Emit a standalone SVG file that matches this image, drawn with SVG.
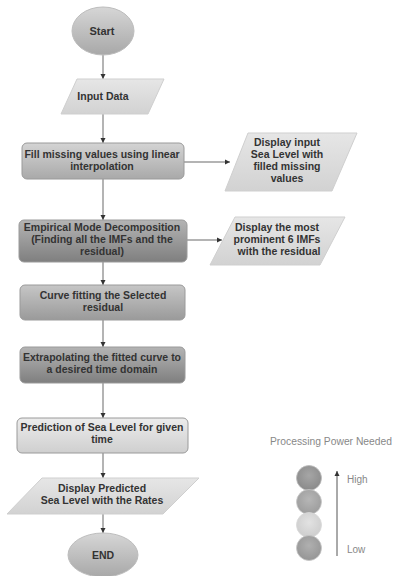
<svg xmlns="http://www.w3.org/2000/svg" width="394" height="576" viewBox="0 0 394 576">
<defs>
<linearGradient id="gEll" x1="0" y1="0" x2="0" y2="1"><stop offset="0" stop-color="#d6d6d6"/><stop offset="1" stop-color="#a8a8a8"/></linearGradient>
<linearGradient id="gPara" x1="0" y1="0" x2="0" y2="1"><stop offset="0" stop-color="#e6e6e6"/><stop offset="1" stop-color="#d2d2d2"/></linearGradient>
<linearGradient id="gMid" x1="0" y1="0" x2="0" y2="1"><stop offset="0" stop-color="#d4d4d4"/><stop offset="1" stop-color="#a9a9a9"/></linearGradient>
<linearGradient id="gDark" x1="0" y1="0" x2="0" y2="1"><stop offset="0" stop-color="#b4b4b4"/><stop offset="1" stop-color="#7f7f7f"/></linearGradient>
<linearGradient id="gCurve" x1="0" y1="0" x2="0" y2="1"><stop offset="0" stop-color="#c6c6c6"/><stop offset="1" stop-color="#9a9a9a"/></linearGradient>
<linearGradient id="gLight" x1="0" y1="0" x2="0" y2="1"><stop offset="0" stop-color="#ececec"/><stop offset="1" stop-color="#cfcfcf"/></linearGradient>
<radialGradient id="c1" cx="0.5" cy="0.4" r="0.6"><stop offset="0" stop-color="#a6a6a6"/><stop offset="1" stop-color="#8a8a8a"/></radialGradient>
<radialGradient id="c2" cx="0.5" cy="0.4" r="0.6"><stop offset="0" stop-color="#b6b6b6"/><stop offset="1" stop-color="#9c9c9c"/></radialGradient>
<radialGradient id="c3" cx="0.5" cy="0.4" r="0.6"><stop offset="0" stop-color="#e2e2e2"/><stop offset="1" stop-color="#cdcdcd"/></radialGradient>
<radialGradient id="c4" cx="0.5" cy="0.4" r="0.6"><stop offset="0" stop-color="#b0b0b0"/><stop offset="1" stop-color="#959595"/></radialGradient>
<marker id="arr" markerWidth="6" markerHeight="6" refX="5" refY="3" orient="auto" markerUnits="userSpaceOnUse"><path d="M0,0.5 L5,3 L0,5.5 Z" fill="#333"/></marker>
</defs>
<style>
.t{font-family:"Liberation Sans",Arial,sans-serif;font-weight:bold;font-size:10.5px;fill:#333;text-anchor:middle}
.l{font-family:"Liberation Sans",Arial,sans-serif;font-size:10px;fill:#888}
.box{stroke:#9a9a9a;stroke-width:1}
.para{fill:url(#gPara);stroke:#cfcfcf;stroke-width:1}
.c{stroke:#9b9b9b;stroke-width:1.5;fill:none;marker-end:url(#arr)}
</style>
<rect width="394" height="576" fill="#fff"/>
<g id="connectors">
<line class="c" x1="103" y1="55" x2="103" y2="79"/>
<line class="c" x1="103" y1="114" x2="103" y2="143"/>
<line class="c" x1="184" y1="162" x2="230" y2="162"/>
<line class="c" x1="103" y1="179" x2="103" y2="220"/>
<line class="c" x1="187" y1="240" x2="222" y2="240"/>
<line class="c" x1="103" y1="262" x2="103" y2="285"/>
<line class="c" x1="103" y1="320" x2="103" y2="347"/>
<line class="c" x1="103" y1="383" x2="103" y2="418"/>
<line class="c" x1="103" y1="453" x2="103" y2="478"/>
<line class="c" x1="103" y1="514" x2="103" y2="533"/>
</g>
<g id="start">
<ellipse cx="103" cy="31" rx="31" ry="24" fill="url(#gEll)" stroke="#bdbdbd"/>
<text class="t" x="102" y="35" style="font-size:11px">Start</text>
</g>
<g id="input">
<polygon class="para" points="77,79 164,79 148,114 61,114"/>
<text class="t" x="103" y="100">Input Data</text>
</g>
<g id="fill">
<rect class="box" x="22" y="143" width="162" height="36" rx="5" fill="url(#gMid)"/>
<text class="t" x="102" y="158">Fill missing values using linear</text>
<text class="t" x="102" y="170">interpolation</text>
</g>
<g id="display1">
<polygon class="para" points="248,133 357,133 332,191 225,191"/>
<text class="t" x="287" y="146">Display input</text>
<text class="t" x="287" y="158">Sea Level with</text>
<text class="t" x="287" y="170">filled missing</text>
<text class="t" x="287" y="182">values</text>
</g>
<g id="emd">
<rect class="box" x="19" y="220" width="168" height="42" rx="5" fill="url(#gDark)"/>
<text class="t" x="102" y="231">Empirical Mode Decomposition</text>
<text class="t" x="102" y="243">(Finding all the IMFs and the</text>
<text class="t" x="102" y="255">residual)</text>
</g>
<g id="display2">
<polygon class="para" points="235,217 345,217 320,265 210,265"/>
<text class="t" x="277" y="231">Display the most</text>
<text class="t" x="277" y="243">prominent 6 IMFs</text>
<text class="t" x="279" y="255">with the residual</text>
</g>
<g id="curve">
<rect class="box" x="20" y="285" width="165" height="35" rx="5" fill="url(#gCurve)"/>
<text class="t" x="103" y="299">Curve fitting the Selected</text>
<text class="t" x="103" y="311">residual</text>
</g>
<g id="extrap">
<rect class="box" x="20" y="347" width="165" height="36" rx="5" fill="url(#gDark)"/>
<text class="t" x="102" y="361">Extrapolating the fitted curve to</text>
<text class="t" x="102" y="373">a desired time domain</text>
</g>
<g id="predict">
<rect class="box" x="17" y="418" width="171" height="35" rx="5" fill="url(#gLight)" stroke="#bcbcbc"/>
<text class="t" x="102" y="431">Prediction of Sea Level for given</text>
<text class="t" x="102" y="443">time</text>
</g>
<g id="display3">
<polygon class="para" points="42,478 199,478 163,514 7,514"/>
<text class="t" x="102" y="492">Display Predicted</text>
<text class="t" x="102" y="504">Sea Level with the Rates</text>
</g>
<g id="end">
<ellipse cx="103" cy="555" rx="35" ry="22" fill="url(#gEll)" stroke="#bdbdbd"/>
<text class="t" x="103" y="558.5">END</text>
</g>
<g id="legend">
<text class="l" x="270" y="445" textLength="122" lengthAdjust="spacingAndGlyphs">Processing Power Needed</text>
<circle cx="309" cy="478" r="12.5" fill="url(#c1)" stroke="#bdbdbd" stroke-width="0.8"/>
<circle cx="309" cy="502" r="12.5" fill="url(#c2)" stroke="#c6c6c6" stroke-width="0.8"/>
<circle cx="309" cy="525" r="12.5" fill="url(#c3)" stroke="#d8d8d8" stroke-width="0.8"/>
<circle cx="309" cy="548" r="12.5" fill="url(#c4)" stroke="#c6c6c6" stroke-width="0.8"/>
<line x1="337" y1="556" x2="337" y2="471" stroke="#555" stroke-width="1" marker-end="url(#arr)"/>
<text class="l" x="347" y="483">High</text>
<text class="l" x="347" y="553">Low</text>
</g>
</svg>
